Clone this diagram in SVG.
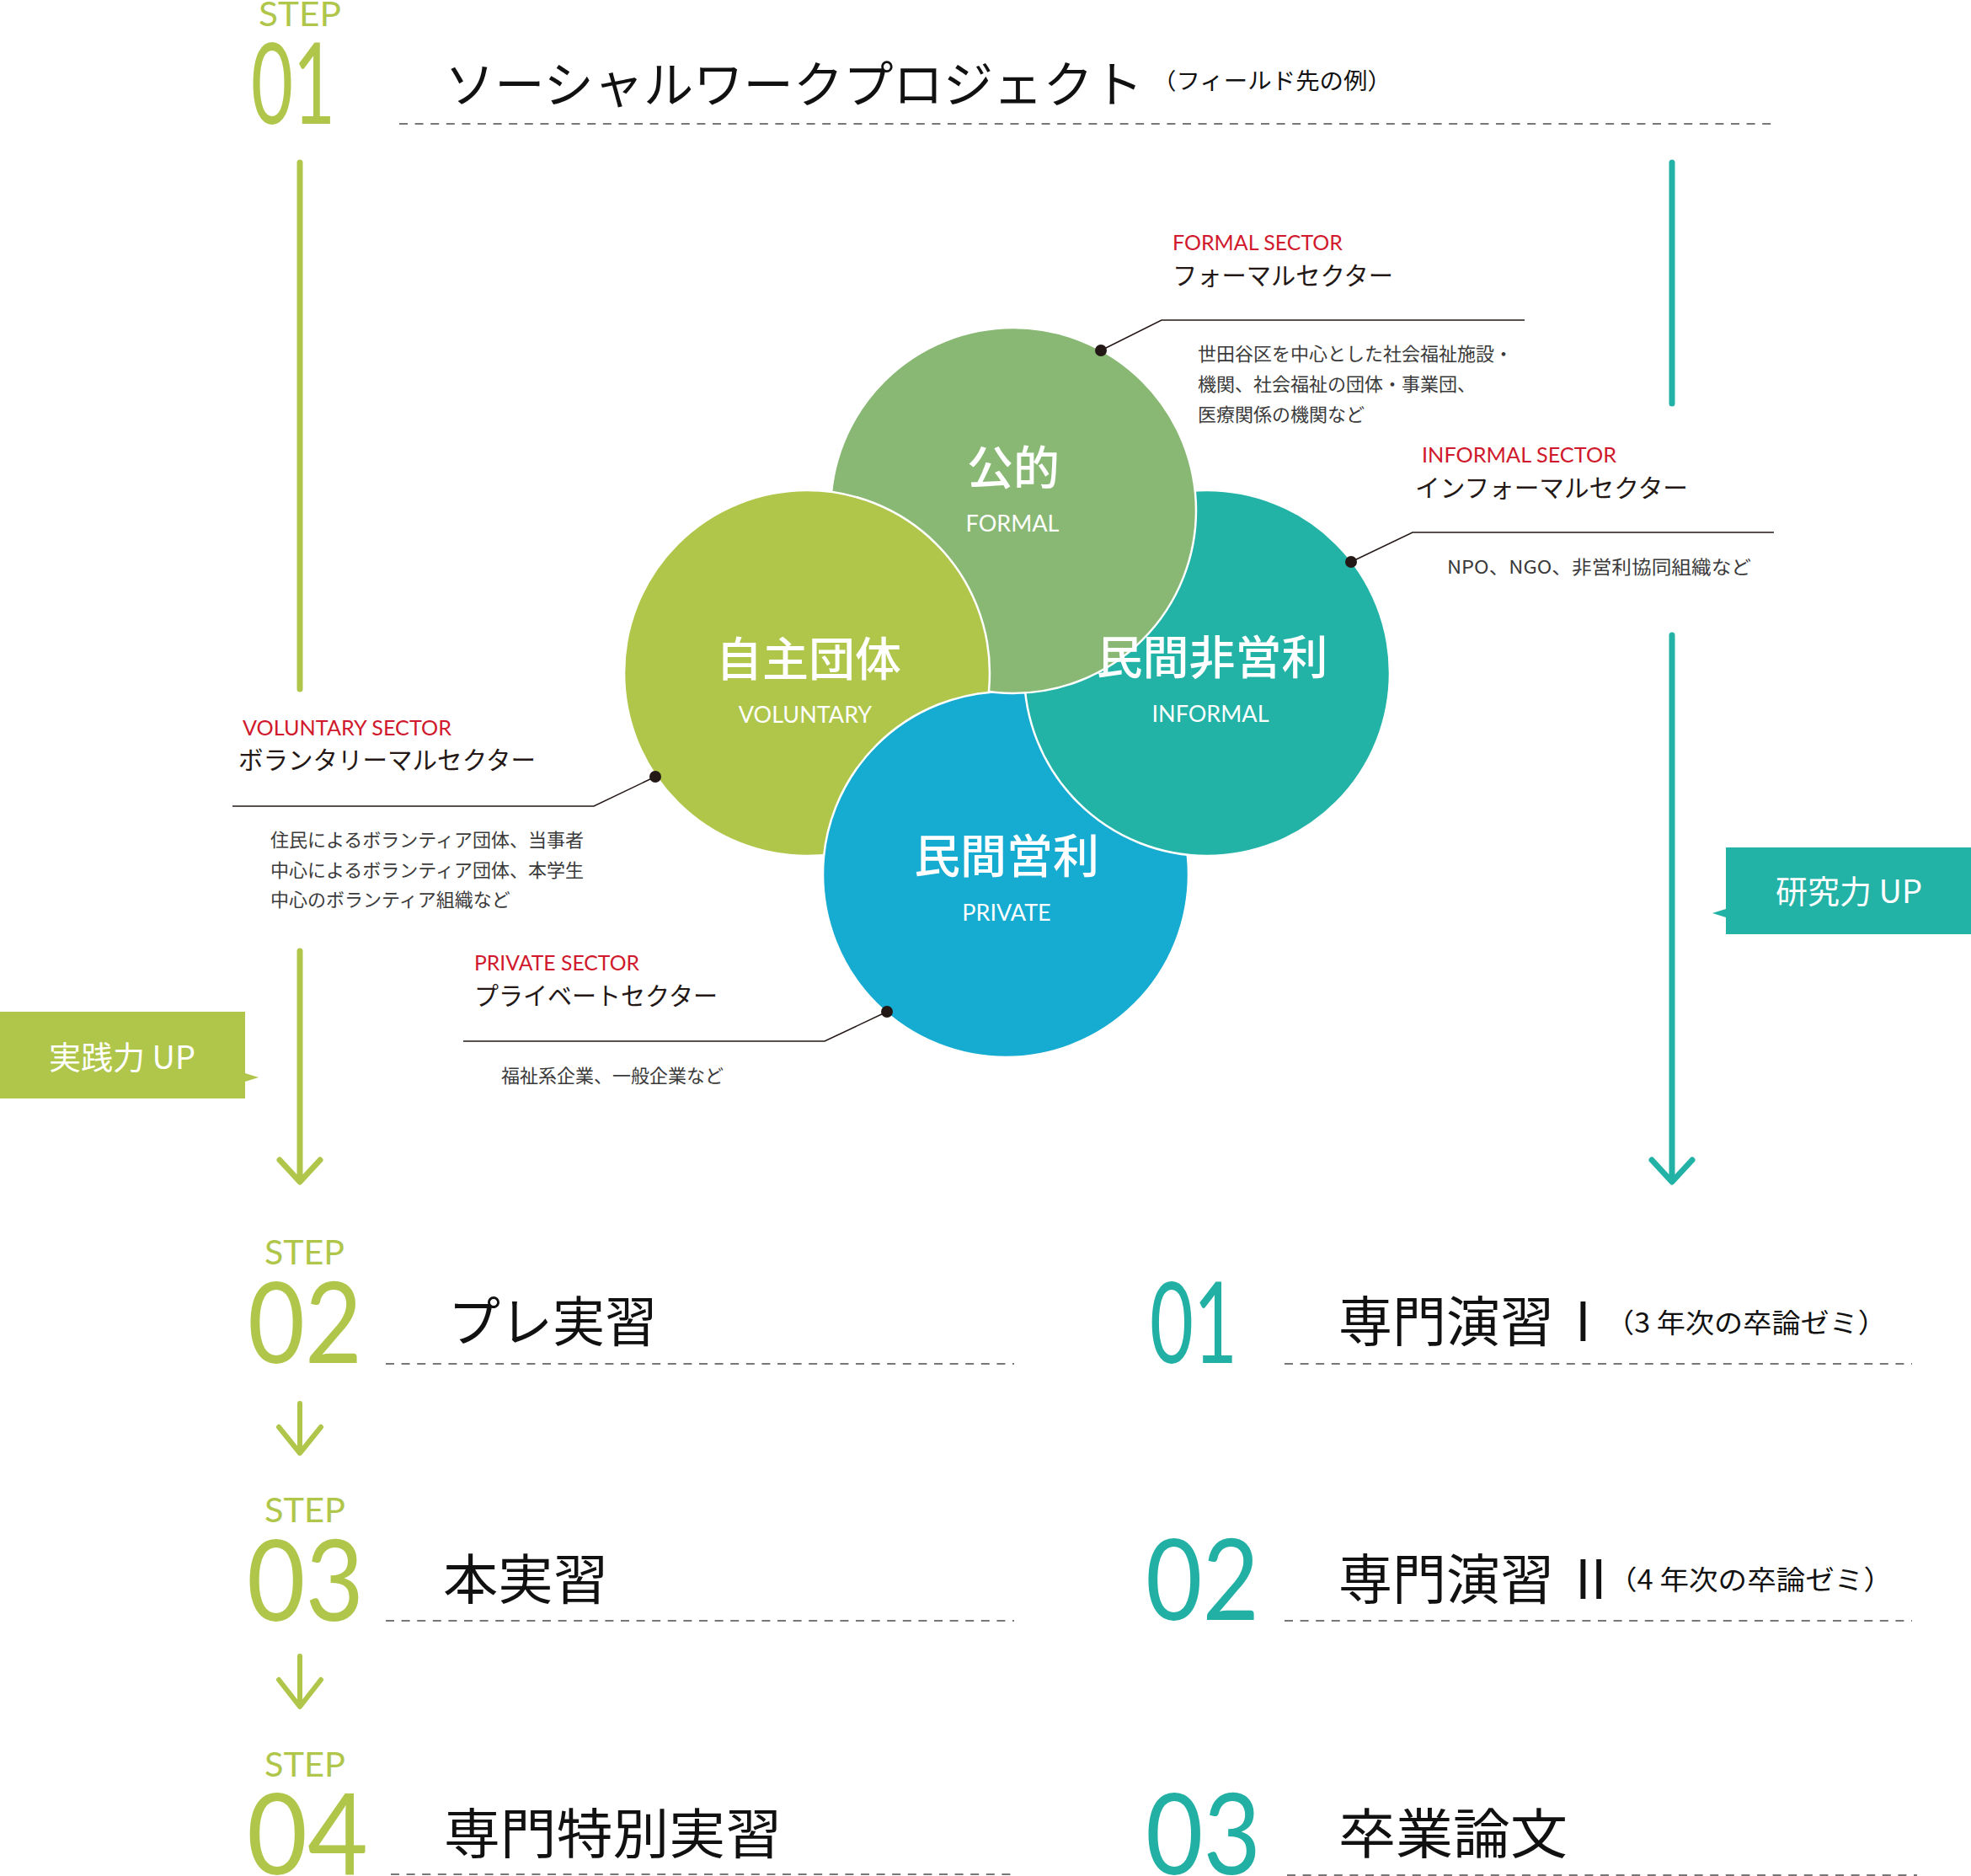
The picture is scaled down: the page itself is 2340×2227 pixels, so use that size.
<svg xmlns="http://www.w3.org/2000/svg" width="2340" height="2227" viewBox="0 0 2340 2227">
<style>
.jp{font-family:"Noto Sans CJK JP","Noto Sans",sans-serif;}
.en{font-family:"Lato","Noto Sans",sans-serif;}
.step{font-family:"Lato","Noto Sans",sans-serif;font-size:41px;fill:#afc64a;}
.numg{font-family:"Lato","Noto Sans",sans-serif;font-size:134px;font-weight:400;fill:#afc64a;}
.numt{font-family:"Lato","Noto Sans",sans-serif;font-size:134px;font-weight:400;fill:#22b0a4;}
.title{font-family:"Noto Sans CJK JP",sans-serif;font-size:64px;fill:#111;}
.sub{font-family:"Noto Sans CJK JP",sans-serif;font-size:32px;fill:#111;}
.dash{stroke:#777;stroke-width:2;stroke-dasharray:10 8.6;fill:none;}
.red{font-family:"Lato","Noto Sans",sans-serif;font-size:25px;fill:#d0192c;}
.sec{font-family:"Noto Sans CJK JP",sans-serif;font-size:29.5px;fill:#231815;}
.desc{font-family:"Noto Sans CJK JP",sans-serif;font-size:22px;fill:#3a3a3a;}
.ctx{font-family:"Noto Sans CJK JP",sans-serif;font-size:55px;font-weight:500;fill:#fff;text-anchor:middle;}
.cen{font-family:"Lato","Noto Sans",sans-serif;font-size:27px;fill:#fff;text-anchor:middle;}
.lead{stroke:#231815;stroke-width:1.5;fill:none;}
.dot{fill:#231815;}
.circ{stroke:#fff;stroke-width:2.5;}
.gline{stroke:#afc64a;stroke-width:7;stroke-linecap:round;stroke-linejoin:round;fill:none;}
.tline{stroke:#22b2a6;stroke-width:7;stroke-linecap:round;stroke-linejoin:round;fill:none;}
.badge{font-family:"Noto Sans CJK JP",sans-serif;font-size:38px;fill:#fff;}
</style>
<defs>
<clipPath id="clipV"><circle cx="958" cy="799" r="219"/></clipPath>
</defs>

<g id="connectors">
<path class="gline" d="M356,193 L356,818"/>
<path class="gline" d="M356,1129 L356,1402 M332,1377 L356,1403 L380,1377"/>
<path class="gline" d="M356,1666 L356,1724 M331,1694 L356,1725 L381,1694" style="stroke-width:6"/>
<path class="gline" d="M356,1966 L356,2024 M331,1994 L356,2026 L381,1994" style="stroke-width:6"/>
<path class="tline" d="M1985,193 L1985,479"/>
<path class="tline" d="M1985,754 L1985,1402 M1961,1377 L1985,1403 L2009,1377"/>
<path class="lead" d="M1307,416 L1379,380 L1810,380"/>
<path class="lead" d="M1604,667 L1677,632 L2106,632"/>
<path class="lead" d="M778,922 L705,957 L276,957"/>
<path class="lead" d="M1053,1201 L979,1236 L550,1236"/>
</g>

<g id="step01">
<text class="step" x="307" y="31" textLength="98" lengthAdjust="spacingAndGlyphs">STEP</text>
<text class="numg" x="298" y="147" textLength="100" lengthAdjust="spacingAndGlyphs">01</text>
<text class="jp" x="528" y="122" font-size="59" fill="#111" textLength="829" lengthAdjust="spacingAndGlyphs">ソーシャルワークプロジェクト</text>
<text class="jp" x="1368" y="106" font-size="27" fill="#111" textLength="284" lengthAdjust="spacingAndGlyphs">（フィールド先の例）</text>
<line class="dash" x1="474" y1="147" x2="2107" y2="147"/>
</g>

<g id="circles">
<circle id="c-private" class="circ" cx="1194" cy="1038" r="217" fill="#16abd1"/>
<circle id="c-informal" class="circ" cx="1433" cy="799" r="217" fill="#22b2a6"/>
<circle id="c-formal" class="circ" cx="1203" cy="606" r="217" fill="#89b874"/>
<circle id="c-voluntary" class="circ" cx="958" cy="799" r="217" fill="#afc64a"/>
<g clip-path="url(#clipV)"><circle class="circ" cx="1194" cy="1038" r="217" fill="#16abd1"/></g>
<text class="ctx" x="1203" y="575">公的</text>
<text class="cen" x="1202" y="631">FORMAL</text>
<text class="ctx" x="960" y="802">自主団体</text>
<text class="cen" x="956" y="858">VOLUNTARY</text>
<text class="ctx" x="1439" y="800">民間非営利</text>
<text class="cen" x="1437" y="857">INFORMAL</text>
<text class="ctx" x="1195" y="1036">民間営利</text>
<text class="cen" x="1195" y="1093">PRIVATE</text>
</g>

<g id="formal-sector">
<circle class="dot" cx="1307" cy="416" r="7"/>
<text class="red" x="1392" y="297" textLength="202" lengthAdjust="spacingAndGlyphs">FORMAL SECTOR</text>
<text class="sec" x="1392" y="338" textLength="262" lengthAdjust="spacingAndGlyphs">フォーマルセクター</text>
<text class="desc" x="1422" y="428">世田谷区を中心とした社会福祉施設・</text>
<text class="desc" x="1422" y="464">機関、社会福祉の団体・事業団、</text>
<text class="desc" x="1422" y="500">医療関係の機関など</text>
</g>

<g id="informal-sector">
<circle class="dot" cx="1604" cy="667" r="7"/>
<text class="red" x="1688" y="549" textLength="231" lengthAdjust="spacingAndGlyphs">INFORMAL SECTOR</text>
<text class="sec" x="1680" y="590" textLength="324" lengthAdjust="spacingAndGlyphs">インフォーマルセクター</text>
<text class="desc" x="1718" y="681" textLength="361" lengthAdjust="spacingAndGlyphs">NPO、NGO、非営利協同組織など</text>
</g>

<g id="voluntary-sector">
<circle class="dot" cx="778" cy="922" r="7"/>
<text class="red" x="288" y="873" textLength="248" lengthAdjust="spacingAndGlyphs">VOLUNTARY SECTOR</text>
<text class="sec" x="283" y="913" textLength="353" lengthAdjust="spacingAndGlyphs">ボランタリーマルセクター</text>
<text class="desc" x="321" y="1005" font-size="21.5">住民によるボランティア団体、当事者</text>
<text class="desc" x="321" y="1041" font-size="21.5">中心によるボランティア団体、本学生</text>
<text class="desc" x="321" y="1076" font-size="21.5">中心のボランティア組織など</text>
</g>

<g id="private-sector">
<circle class="dot" cx="1053" cy="1201" r="7"/>
<text class="red" x="563" y="1152" textLength="196" lengthAdjust="spacingAndGlyphs">PRIVATE SECTOR</text>
<text class="sec" x="563" y="1193" textLength="289" lengthAdjust="spacingAndGlyphs">プライベートセクター</text>
<text class="desc" x="595" y="1285" font-size="22.5">福祉系企業、一般企業など</text>
</g>

<g id="badge-practice">
<path d="M0,1201 L291,1201 L291,1274 L307,1279 L291,1284 L291,1304 L0,1304 Z" fill="#afc64a"/>
<text class="badge" x="58" y="1269">実践力 UP</text>
</g>

<g id="badge-research">
<path d="M2049,1006 L2340,1006 L2340,1109 L2049,1109 L2049,1089 L2033,1084 L2049,1079 Z" fill="#22b2a6"/>
<text class="badge" x="2108" y="1072">研究力 UP</text>
</g>

<g id="step02">
<text class="step" x="314" y="1501" textLength="95" lengthAdjust="spacingAndGlyphs">STEP</text>
<text class="numg" x="294" y="1618" textLength="136" lengthAdjust="spacingAndGlyphs">02</text>
<text class="title" x="532" y="1592" textLength="248" lengthAdjust="spacingAndGlyphs">プレ実習</text>
<line class="dash" x1="458" y1="1619" x2="1204" y2="1619"/>
</g>

<g id="step03">
<text class="step" x="314" y="1807" textLength="96" lengthAdjust="spacingAndGlyphs">STEP</text>
<text class="numg" x="293" y="1924" textLength="139" lengthAdjust="spacingAndGlyphs">03</text>
<text class="title" x="526" y="1898" textLength="196" lengthAdjust="spacingAndGlyphs">本実習</text>
<line class="dash" x1="458" y1="1924" x2="1204" y2="1924"/>
</g>

<g id="step04">
<text class="step" x="314" y="2109" textLength="96" lengthAdjust="spacingAndGlyphs">STEP</text>
<text class="numg" x="293" y="2225" textLength="144" lengthAdjust="spacingAndGlyphs">04</text>
<text class="title" x="527" y="2200" textLength="401" lengthAdjust="spacingAndGlyphs">専門特別実習</text>
<line class="dash" x1="464" y1="2225" x2="1207" y2="2225"/>
</g>

<g id="seminar01">
<text class="numt" x="1365" y="1618" textLength="104" lengthAdjust="spacingAndGlyphs">01</text>
<text class="title" x="1589" y="1592">専門演習<tspan x="1870">I</tspan></text>
<text class="sub" x="1906" y="1582" textLength="334" lengthAdjust="spacingAndGlyphs">（3 年次の卒論ゼミ）</text>
<line class="dash" x1="1525" y1="1619" x2="2270" y2="1619"/>
</g>

<g id="seminar02">
<text class="numt" x="1360" y="1923" textLength="135" lengthAdjust="spacingAndGlyphs">02</text>
<text class="title" x="1589" y="1898">専門演習<tspan x="1870">II</tspan></text>
<text class="sub" x="1909" y="1887" textLength="338" lengthAdjust="spacingAndGlyphs">（4 年次の卒論ゼミ）</text>
<line class="dash" x1="1525" y1="1924" x2="2270" y2="1924"/>
</g>

<g id="thesis">
<text class="numt" x="1360" y="2225" textLength="137" lengthAdjust="spacingAndGlyphs">03</text>
<text class="title" x="1589" y="2200" textLength="272" lengthAdjust="spacingAndGlyphs">卒業論文</text>
<line class="dash" x1="1528" y1="2226" x2="2276" y2="2226"/>
</g>
</svg>
